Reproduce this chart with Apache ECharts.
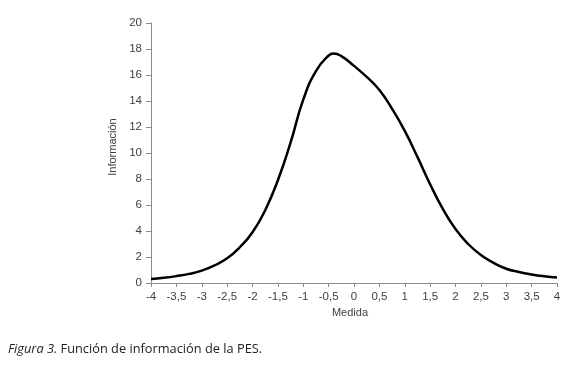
<!DOCTYPE html>
<html><head><meta charset="utf-8">
<script src="https://cdn.jsdelivr.net/npm/echarts@6/dist/echarts.min.js"></script>
<style>html,body{margin:0;padding:0;background:#fff}#c{width:580px;height:368px}</style>
</head><body><div id="c"></div>
<script>
var xValues = [-4,-3.75,-3.5,-3.25,-3,-2.75,-2.5,-2.25,-2,-1.75,-1.5,-1.25,-1,-0.75,-0.5,-0.4,-0.25,0,0.25,0.5,0.75,1,1.25,1.5,1.75,2,2.25,2.5,2.75,3,3.25,3.5,3.75,4];
var info = [0.31,0.4,0.53,0.7,0.95,1.35,1.9,2.75,3.9,5.6,7.9,10.8,14.1,16.3,17.5,17.65,17.45,16.7,15.85,14.85,13.4,11.7,9.7,7.6,5.7,4.15,3.0,2.15,1.55,1.1,0.85,0.66,0.52,0.42];
var xTicks = {min:-4, max:4, step:0.5};
var yTicks = {min:0, max:20, step:2};
var xName = 'Medida', yName = 'Información';
var caption = '{i|Figura 3.} Función de información de la PES.';

var data = xValues.map(function(x,i){return [x, info[i]];});
var chart = echarts.init(document.getElementById('c'), null, {renderer:'canvas'});
var axisCol = '#8c8c8c', labCol = '#404040';
chart.setOption({
  animation:false,
  backgroundColor:'#fff',
  title:{
    text: caption, left: 3, top: 338,
    textStyle:{fontFamily:'Open Sans', fontSize:12.8, fontWeight:'normal', color:'#222',
      rich:{i:{fontFamily:'Open Sans', fontStyle:'italic', fontSize:12.8, color:'#222'}}}
  },
  grid:{left:151, right:23, top:23, bottom:85, containLabel:false},
  xAxis:{
    type:'value', min:xTicks.min, max:xTicks.max, interval:xTicks.step,
    name:xName, nameLocation:'middle', nameGap:23,
    nameTextStyle:{fontFamily:'Liberation Sans', fontSize:11, color:labCol, padding:[0,8,0,0]},
    axisLine:{onZero:false, lineStyle:{color:axisCol, width:1}},
    axisTick:{show:true, length:4, lineStyle:{color:axisCol}},
    axisLabel:{fontFamily:'Liberation Sans', fontSize:11.5, color:labCol, margin:8,
      formatter:function(v){return String(v).replace('.',',');}},
    splitLine:{show:false}
  },
  yAxis:{
    type:'value', min:yTicks.min, max:yTicks.max, interval:yTicks.step,
    name:yName, nameLocation:'middle', nameGap:27, nameRotate:90,
    nameTextStyle:{fontFamily:'Liberation Sans', fontSize:11, color:labCol, padding:[0,0,0,12]},
    axisLine:{show:true, onZero:false, lineStyle:{color:axisCol, width:1}},
    axisTick:{show:true, length:5, lineStyle:{color:axisCol}},
    axisLabel:{fontFamily:'Liberation Sans', fontSize:11.5, color:labCol, margin:9},
    splitLine:{show:false}
  },
  series:[{
    type:'line', data:data, smooth:0.5, showSymbol:false,
    lineStyle:{color:'#000', width:2.5}
  }]
});
</script></body></html>
